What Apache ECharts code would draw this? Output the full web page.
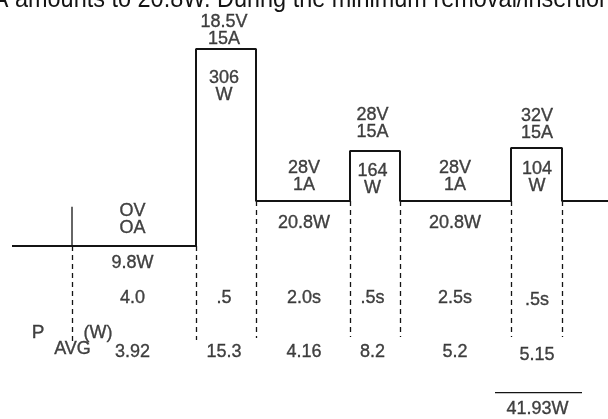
<!DOCTYPE html>
<html>
<head>
<meta charset="utf-8">
<script src="https://cdn.jsdelivr.net/npm/echarts@6/dist/echarts.min.js"></script>
<style>
  html, body { margin: 0; padding: 0; background: #ffffff; }
  #chart { width: 608px; height: 419px; }
</style>
</head>
<body>
<div id="chart"></div>
<script>
// ---------------- data ----------------
const phases     = ['Idle', 'Pulse 1', 'Hold 1', 'Pulse 2', 'Hold 2', 'Pulse 3'];
const voltages   = ['OV', '18.5V', '28V', '28V', '28V', '32V'];
const currents   = ['OA', '15A', '1A', '15A', '1A', '15A'];
const powers     = ['9.8W', '306\nW', '20.8W', '164\nW', '20.8W', '104\nW'];
const durations  = ['4.0', '.5', '2.0s', '.5s', '2.5s', '.5s'];
const avgPowers  = ['3.92', '15.3', '4.16', '8.2', '5.2', '5.15'];
const totalAvgPower = '41.93W';
const headerLead = '28V/1A ';
const headerRest = 'amounts to 20.8W. During the minimum removal/insertion';
// schematic (not to scale) profile height of each step: lead-in, 6 phases, tail
const stepLevels = [0, 0, 197, 45, 95, 45, 98, 45];

// ---------------- layout (diagram units) ----------------
const stepEdges = [12, 72, 196, 256, 350, 400, 511, 562, 608];
const labelX    = [132.5, 224, 304, 372.5, 455, 537];
const viY       = [28, 216.5, 70.7, 124, 70.7, 123];
const pwY       = [-15.5, 160.5, 24.5, 68, 24.5, 69.5];
const durY      = [-50.5, -50.5, -50.5, -50.5, -50.5, -53];
const avgY      = [-105, -105, -105, -105, -105, -107.5];
const LABEL_SHIFT = -1.5;
const dashBottom = -91;

// profile polyline from the step arrays
const profile = [];
for (let i = 0; i < stepLevels.length; i++) {
  profile.push([stepEdges[i], stepLevels[i]]);
  profile.push([stepEdges[i + 1], stepLevels[i]]);
}

// dashed phase separators
const dashLines = [];
dashLines.push([{ coord: [stepEdges[1], 0] }, { coord: [stepEdges[1], -96] }]);
dashLines.push([{ coord: [stepEdges[2], 0] }, { coord: [stepEdges[2], -94] }]);
dashLines.push([{ coord: [stepEdges[3], stepLevels[3]] }, { coord: [stepEdges[3], -92] }]);
for (let i = 4; i <= 7; i++) {
  dashLines.push([{ coord: [stepEdges[i], stepLevels[3]] }, { coord: [stepEdges[i], dashBottom] }]);
}

const INK = '#141414';
const FONT = "'Liberation Sans', Arial, Helvetica, sans-serif";
const FS = 18;

// cropped header line: condensed horizontally like the reference
const HEAD_SIZE = 26;
const mctx = document.createElement('canvas').getContext('2d');
function textW(s) { mctx.font = HEAD_SIZE + 'px ' + FONT; return mctx.measureText(s).width; }
const headScale = (612 - 15) / textW(headerRest);
const headX = 15 - headScale * textW(headerLead);
const headY = 8 - 0.83 * HEAD_SIZE;

const labels = [];
function addLabel(text, x, y, extra) {
  const item = { name: text, value: [x, y + LABEL_SHIFT] };
  if (extra) item.label = extra;
  labels.push(item);
}
for (let i = 0; i < phases.length; i++) {
  addLabel(voltages[i] + '\n' + currents[i], labelX[i], viY[i]);
  addLabel(powers[i], labelX[i], pwY[i]);
  addLabel(durations[i], labelX[i], durY[i]);
  addLabel(avgPowers[i], labelX[i], avgY[i]);
}
addLabel('P', 38, -85.5, { fontSize: 19 });
addLabel('(W)', 98, -86);
addLabel('AVG', 72.5, -101.5);
addLabel(totalAvgPower, 537.5, -162);

const chart = echarts.init(document.getElementById('chart'), null, { renderer: 'canvas' });
chart.setOption({
  animation: false,
  backgroundColor: '#ffffff',
  grid: { left: 0, right: 0, top: 0, bottom: 0 },
  xAxis: { type: 'value', min: 0, max: 608, show: false },
  yAxis: { type: 'value', min: -173, max: 246, show: false },
  graphic: [{
    type: 'text',
    x: headX,
    y: headY,
    scaleX: headScale,
    originX: 0,
    style: {
      text: headerLead + headerRest, fontSize: HEAD_SIZE, fontFamily: FONT,
      fill: INK, align: 'left', verticalAlign: 'top'
    }
  }],
  series: [
    {
      type: 'line',
      data: profile,
      showSymbol: false,
      lineStyle: { color: INK, width: 2 },
      silent: true,
      markLine: {
        silent: true,
        symbol: ['none', 'none'],
        label: { show: false },
        lineStyle: { color: INK, width: 1.3, type: [5, 4] },
        data: dashLines
      }
    },
    {
      type: 'line',
      data: [[stepEdges[1], 39.3], [stepEdges[1], 0]],
      showSymbol: false,
      lineStyle: { color: INK, width: 1.3 },
      silent: true
    },
    {
      type: 'line',
      data: [[495, -146.7], [582, -146.7]],
      showSymbol: false,
      lineStyle: { color: INK, width: 1.3 },
      silent: true
    },
    {
      type: 'scatter',
      data: labels,
      symbolSize: 0.1,
      itemStyle: { color: 'transparent' },
      silent: true,
      label: {
        show: true,
        position: 'inside',
        formatter: '{b}',
        color: INK,
        fontFamily: FONT,
        fontSize: FS,
        lineHeight: 17,
        align: 'center',
        verticalAlign: 'middle',
        textBorderColor: INK,
        textBorderWidth: 0.35
      }
    }
  ]
});
</script>
</body>
</html>
